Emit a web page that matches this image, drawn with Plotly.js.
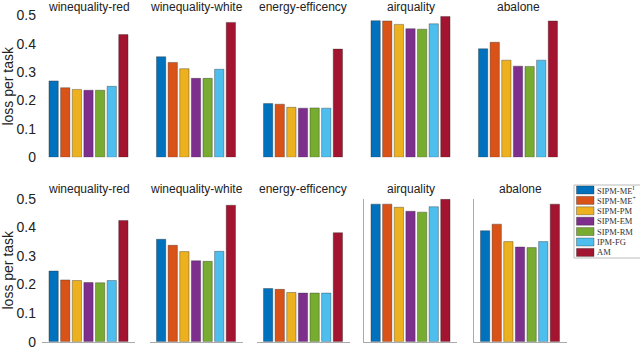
<!DOCTYPE html>
<html>
<head>
<meta charset="utf-8">
<script src="https://cdn.plot.ly/plotly-3.0.1.min.js"></script>
<style>
  html, body { margin: 0; padding: 0; background: #fff; }
  #chart { width: 640px; height: 349px; }
</style>
</head>
<body>
<div id="chart"></div>
<script>
const datasets = ["winequality-red", "winequality-white", "energy-efficency", "airquality", "abalone"];
const methods = ["SIPM-ME<sup>I</sup>", "SIPM-ME<sup>+</sup>", "SIPM-PM", "SIPM-EM", "SIPM-RM", "IPM-FG", "AM"];
const colors = ["#0072BD", "#D95319", "#EDB120", "#7E2F8E", "#77AC30", "#4DBEEE", "#A2142F"];

// top row
const redTop = [0.269, 0.245, 0.239, 0.236, 0.236, 0.250, 0.432];
const whiteTop = [0.354, 0.334, 0.312, 0.278, 0.278, 0.310, 0.475];
const energyTop = [0.189, 0.187, 0.176, 0.173, 0.174, 0.173, 0.381];
const airTop = [0.481, 0.480, 0.468, 0.453, 0.451, 0.470, 0.496];
const abaloneTop = [0.382, 0.405, 0.342, 0.321, 0.320, 0.342, 0.480];

// bottom row
const redBottom = [0.247, 0.216, 0.214, 0.207, 0.206, 0.214, 0.424];
const whiteBottom = [0.358, 0.337, 0.315, 0.283, 0.281, 0.316, 0.477];
const energyBottom = [0.186, 0.183, 0.172, 0.170, 0.170, 0.170, 0.381];
const airBottom = [0.481, 0.481, 0.470, 0.456, 0.453, 0.472, 0.498];
const abaloneBottom = [0.388, 0.411, 0.350, 0.331, 0.329, 0.350, 0.481];

const topRow = [redTop, whiteTop, energyTop, airTop, abaloneTop];
const bottomRow = [redBottom, whiteBottom, energyBottom, airBottom, abaloneBottom];

const W = 640, H = 349;
const px = (x) => x / W;
const py = (y) => 1 - y / H;

const panelLeft = [42, 149.5, 256.5, 364, 471.5];
const panelWidth = 93;
const rows = [
  { data: topRow, zero: 157.3, top: 15.3, titleY: 7, lines: false },
  { data: bottomRow, zero: 341.7, top: 198.7, titleY: 189, lines: true },
];

const font = "Liberation Sans, Arial, sans-serif";
const traces = [];
const layout = {
  width: W,
  height: H,
  margin: { l: 0, r: 0, t: 0, b: 0 },
  paper_bgcolor: "#fff",
  plot_bgcolor: "rgba(0,0,0,0)",
  showlegend: false,
  font: { family: font, color: "#222" },
  annotations: [],
  shapes: [],
};

const xs = methods.map((_, i) => i + 1);

rows.forEach((row, r) => {
  row.data.forEach((vals, c) => {
    const n = r * 5 + c + 1;
    const xk = n === 1 ? "xaxis" : "xaxis" + n;
    const yk = n === 1 ? "yaxis" : "yaxis" + n;
    const left = panelLeft[c] + (r === 1 && c === 4 ? 2 : 0);
    traces.push({
      type: "bar",
      x: xs,
      y: vals,
      width: 0.8,
      xaxis: "x" + (n === 1 ? "" : n),
      yaxis: "y" + (n === 1 ? "" : n),
      marker: { color: colors, line: { color: "rgba(40,40,40,0.6)", width: 0.6 } },
      hoverinfo: "none",
    });
    layout[xk] = {
      domain: [px(left), px(left + panelWidth)],
      range: [0, 8],
      anchor: "y" + (n === 1 ? "" : n),
      showticklabels: false,
      ticks: "",
      showgrid: false,
      zeroline: false,
      showline: row.lines,
      linecolor: "#aaa",
      linewidth: 1,
    };
    layout[yk] = {
      domain: [py(row.zero), py(row.top)],
      range: [0, 0.5],
      anchor: "x" + (n === 1 ? "" : n),
      showgrid: false,
      zeroline: false,
      showticklabels: c === 0,
      tickvals: [0, 0.1, 0.2, 0.3, 0.4, 0.5],
      ticktext: ["0", "0.1", "0.2", "0.3", "0.4", "0.5"],
      tickfont: { family: font, size: 14, color: "#222" },
      ticklabeloverflow: "allow",
      ticks: "",
      ticklabelstandoff: 5,
      showline: row.lines && c >= 3,
      linecolor: "#aaa",
      linewidth: 1,
    };
    if (c === 0) {
      layout[yk].title = {
        text: "loss per task",
        font: { family: font, size: 14, color: "#222" },
        standoff: 5,
      };
    }
    layout.annotations.push({
      xref: "paper",
      yref: "paper",
      x: px(left + panelWidth / 2),
      y: py(row.titleY),
      text: datasets[c],
      showarrow: false,
      xanchor: "center",
      yanchor: "middle",
      font: { family: font, size: 12, color: "#222" },
    });
  });
});

// legend box, drawn by hand to get MATLAB's compact rows
const legTop = 185, legStep = 10.4, legFirst = 190;
layout.shapes.push({
  type: "rect",
  xref: "paper",
  yref: "paper",
  x0: px(574),
  x1: px(660),
  y0: py(258),
  y1: py(legTop),
  line: { color: "#bbb", width: 1 },
  fillcolor: "#fff",
  layer: "below",
});
methods.forEach((m, i) => {
  const yc = legFirst + i * legStep;
  layout.shapes.push({
    type: "rect",
    xref: "paper",
    yref: "paper",
    x0: px(576.5),
    x1: px(594),
    y0: py(yc + 4),
    y1: py(yc - 4),
    fillcolor: colors[i],
    line: { color: "rgba(40,40,40,0.6)", width: 0.6 },
  });
  layout.annotations.push({
    xref: "paper",
    yref: "paper",
    x: px(595),
    y: py(yc),
    text: m,
    showarrow: false,
    xanchor: "left",
    yanchor: "middle",
    font: { family: "Liberation Serif, Times New Roman, serif", size: 8.5, color: "#333" },
  });
});

Plotly.newPlot("chart", traces, layout, { staticPlot: true, displayModeBar: false });
</script>
</body>
</html>
